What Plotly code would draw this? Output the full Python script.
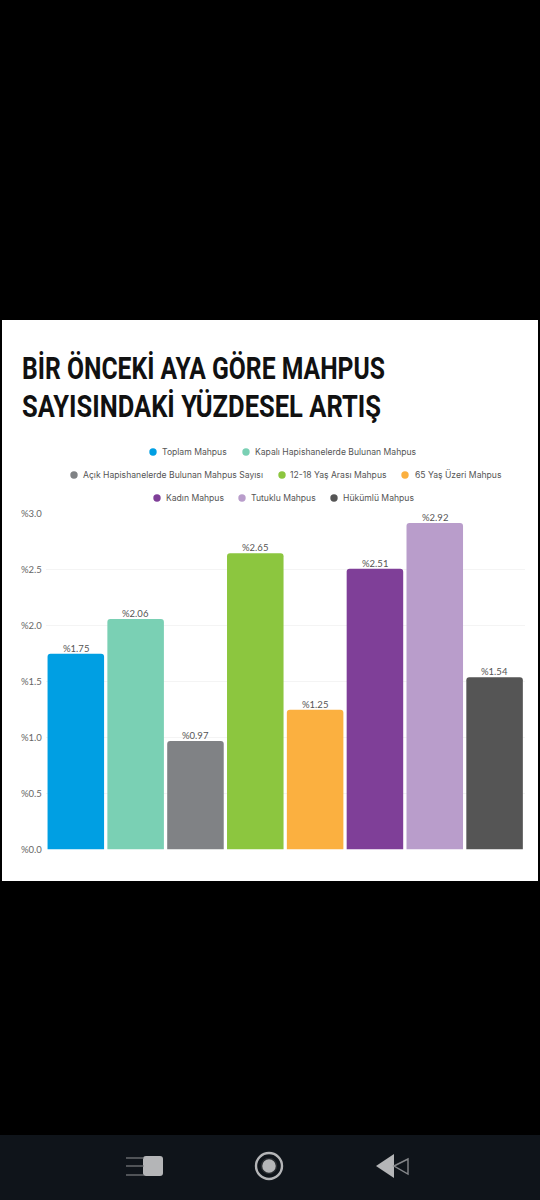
import plotly.graph_objects as go

categories = ["Toplam Mahpus", "Kapalı Hapishanelerde Bulunan Mahpus", "Açık Hapishanelerde Bulunan Mahpus Sayısı",
              "12-18 Yaş Arası Mahpus", "65 Yaş Üzeri Mahpus", "Kadın Mahpus", "Tutuklu Mahpus", "Hükümlü Mahpus"]
values = [1.75, 2.06, 0.97, 2.65, 1.25, 2.51, 2.92, 1.54]
colors = ["#009fe3", "#7ad0b4", "#808285", "#8cc63f", "#fbb040", "#7f3f98", "#b99dcb", "#555555"]
title_lines = ["BİR ÖNCEKİ AYA GÖRE MAHPUS", "SAYISINDAKİ YÜZDESEL ARTIŞ"]
title_widths = [363, 359]

W, H = 540, 1200
def px(x): return x / W
def py(y): return 1 - y / H

# legend layout: (category index, dot x, text x, row y)
legend_items = [(0, 153, 160, 452), (1, 246, 253, 452),
                (2, 74, 81, 475), (3, 282, 288, 475), (4, 405, 413, 475),
                (5, 157, 164, 498), (6, 242, 249, 498), (7, 334, 341, 498)]

fig = go.Figure(go.Bar(
    x=categories, y=values, marker=dict(color=colors, line_width=0),
    hoverinfo="x+y", showlegend=False))

shapes = [dict(type="rect", xref="paper", yref="paper", x0=px(2), x1=px(538), y0=py(320), y1=py(881),
               fillcolor="#ffffff", line_width=0, layer="below"),
          dict(type="rect", xref="paper", yref="paper", x0=0, x1=1, y0=0, y1=py(1135),
               fillcolor="#0f141a", line_width=0, layer="below")]
annotations = []
for c, v in zip(categories, values):
    annotations.append(dict(text=f"%{v:.2f}", x=c, y=v, xref="x", yref="y", yanchor="bottom", showarrow=False,
                            yshift=-2, font=dict(family="Lato, Inter, sans-serif", size=9.5, color="#555555")))
for i, line in enumerate(title_lines):
    annotations.append(dict(text=f"<b>{line}</b>", xref="paper", yref="paper", x=px(22), y=py(368 + i * 38),
                            xanchor="left", yanchor="middle", showarrow=False,
                            font=dict(family="Roboto, sans-serif", size=31, color="#111111")))
for idx, dx, tx, ry in legend_items:
    shapes.append(dict(type="circle", xref="paper", yref="paper", x0=px(dx - 3.7), x1=px(dx + 3.7),
                       y0=py(ry + 3.7), y1=py(ry - 3.7), fillcolor=colors[idx], line_width=0))
    annotations.append(dict(text=categories[idx], xref="paper", yref="paper", x=px(tx), y=py(ry),
                            xanchor="left", yanchor="middle", showarrow=False,
                            font=dict(family="Inter, Lato, sans-serif", size=8.6, color="#555555")))

# navigation bar icons
G = "#b4b5b7"
def circ(cx, cy, r, **k):
    return dict(type="circle", xref="paper", yref="paper", x0=px(cx - r), x1=px(cx + r), y0=py(cy + r), y1=py(cy - r), **k)
def round_rect(x0, y0, x1, y1, r, **k):
    p = (f"M {px(x0 + r)} {py(y0)} L {px(x1 - r)} {py(y0)} Q {px(x1)} {py(y0)} {px(x1)} {py(y0 + r)} "
         f"L {px(x1)} {py(y1 - r)} Q {px(x1)} {py(y1)} {px(x1 - r)} {py(y1)} "
         f"L {px(x0 + r)} {py(y1)} Q {px(x0)} {py(y1)} {px(x0)} {py(y1 - r)} "
         f"L {px(x0)} {py(y0 + r)} Q {px(x0)} {py(y0)} {px(x0 + r)} {py(y0)} Z")
    return dict(type="path", xref="paper", yref="paper", path=p, **k)
shapes.append(round_rect(143, 1156, 163, 1176, 3, fillcolor=G, line_width=0))
for y in (1158, 1166, 1175):
    shapes.append(dict(type="line", xref="paper", yref="paper", x0=px(126), x1=px(144), y0=py(y), y1=py(y),
                       line=dict(color="#7d7f82", width=1.2)))
shapes += [circ(269, 1166, 13, fillcolor="rgba(0,0,0,0)", line=dict(color=G, width=2.4)),
           circ(269, 1166, 7.5, fillcolor=G, line=dict(color="#2a2d31", width=1.5))]
def tri(pts, **k):
    path = "M " + " L ".join(f"{px(a)} {py(b)}" for a, b in pts) + " Z"
    return dict(type="path", xref="paper", yref="paper", path=path, **k)
shapes += [tri([(376, 1166), (394, 1154), (394, 1178)], fillcolor=G, line_width=0),
           tri([(394, 1166), (408, 1159), (408, 1174)], fillcolor="rgba(0,0,0,0)", line=dict(color="#85878a", width=1.4))]

fig.update_traces(width=0.945)
fig.update_layout(
    width=W, height=H, margin=dict(l=0, r=0, t=0, b=0, pad=0), autosize=False,
    paper_bgcolor="#000000", plot_bgcolor="rgba(0,0,0,0)",
    barcornerradius=3, showlegend=False, shapes=shapes, annotations=annotations,
    xaxis=dict(domain=[px(45.9), px(524.5)], showticklabels=False, showgrid=False, zeroline=False,
               showline=False, ticks="", automargin=False),
    yaxis=dict(domain=[py(849.5), py(514)], range=[0, 3], dtick=0.5, tickprefix="%", tickformat=".1f",
               showgrid=True, gridcolor="#f4f4f4", gridwidth=1, zeroline=False, ticks="", ticklabelstandoff=3,
               automargin=False,
               tickfont=dict(family="Lato, Inter, sans-serif", size=9.5, color="#666666")),
)
post = """
document.body.style.margin='0';document.body.style.background='#000';document.documentElement.style.overflow='hidden';
var widths = %s;
var t = Array.from(document.querySelectorAll('.annotation-text')).filter(function(e){return e.textContent.indexOf('BİR')===0 || e.textContent.indexOf('SAYISINDAK')===0;});
t.forEach(function(e,i){
  e.setAttribute('textLength', widths[i]); e.setAttribute('lengthAdjust','spacingAndGlyphs');
  var left = e.getBoundingClientRect().left;
  var x = parseFloat(e.getAttribute('x')||'0');
  e.setAttribute('x', x + (22 - left));
});
""" % title_widths
fig.write_html("out.html", config=dict(displayModeBar=False), post_script=post)
